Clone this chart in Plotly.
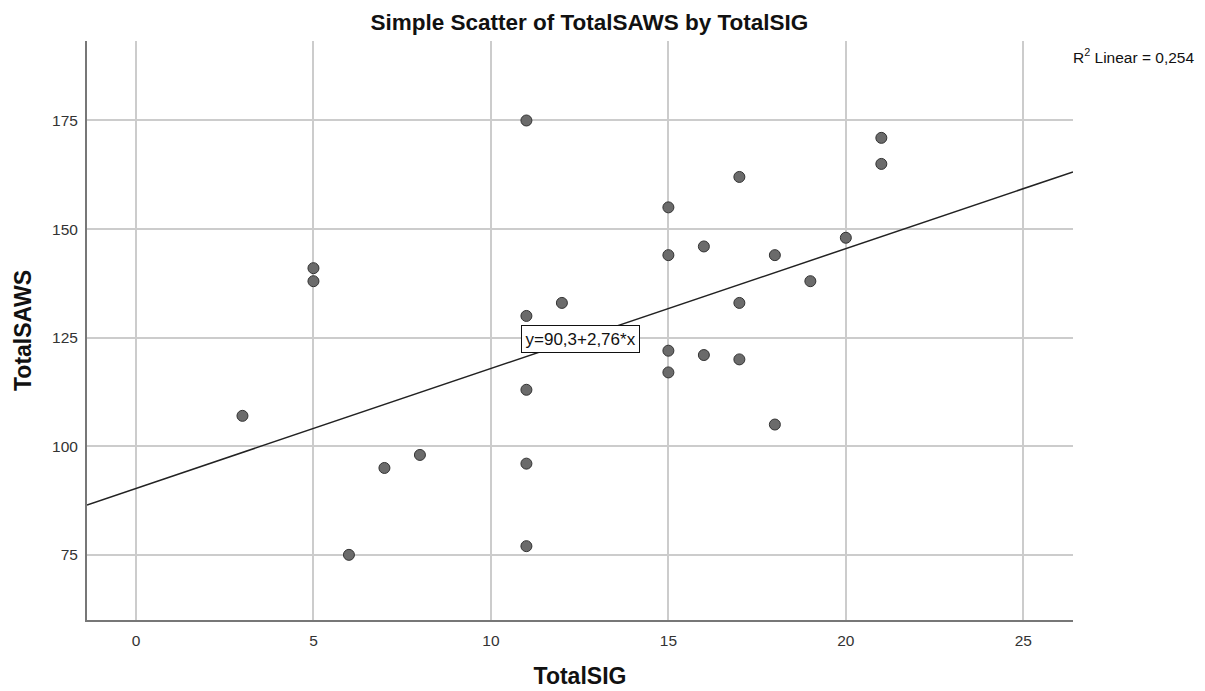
import plotly.graph_objects as go

total_sig = [3, 5, 5, 6, 7, 8, 11, 11, 11, 11, 11, 12, 15, 15, 15, 15, 16, 16, 17, 17, 17, 18, 18, 19, 20, 21, 21]
total_saws = [107, 141, 138, 75, 95, 98, 175, 130, 113, 96, 77, 133, 155, 144, 122, 117, 146, 121, 162, 133, 120, 144, 105, 138, 148, 171, 165]

intercept = 90.3
slope = 2.76
r2_text = "R<sup>2</sup> Linear = 0,254"
eq_text = "y=90,3+2,76*x"

x_range = [-1.38, 26.4]
y_range = [60.0, 193.3]
x_ticks = [0, 5, 10, 15, 20, 25]
y_ticks = [75, 100, 125, 150, 175]

FONT = "Arial, Liberation Sans"

fig = go.Figure()

line_x = x_range
line_y = [intercept + slope * v for v in line_x]
fig.add_trace(go.Scatter(x=line_x, y=line_y, mode="lines",
                         line=dict(color="#222222", width=1.5),
                         hoverinfo="skip", showlegend=False))

fig.add_trace(go.Scatter(x=total_sig, y=total_saws, mode="markers",
                         marker=dict(size=11, color="#6b6b6b",
                                     line=dict(color="#333333", width=1)),
                         showlegend=False))

fig.add_annotation(x=12.51, y=124.77, text=eq_text, showarrow=False,
                   font=dict(family=FONT, size=17, color="#111111"),
                   bordercolor="#111111", borderwidth=1, borderpad=3.5,
                   bgcolor="white")

fig.add_annotation(xref="paper", yref="paper", x=1.0, y=1.0, xanchor="left", yanchor="top",
                   xshift=-2, yshift=-3,
                   text=r2_text, showarrow=False,
                   font=dict(family=FONT, size=15.5, color="#111111"))

fig.update_layout(
    width=1197, height=683,
    margin=dict(l=79, r=132, t=33, b=71, autoexpand=False),
    paper_bgcolor="white", plot_bgcolor="white",
    title=dict(text="<b>Simple Scatter of TotalSAWS by TotalSIG</b>",
               x=0.4857, xanchor="center", y=0.98, yanchor="middle",
               font=dict(family=FONT, size=22.5, color="#111111")),
    font=dict(family=FONT, color="#333333"),
)

fig.update_xaxes(range=x_range, tickvals=x_ticks, showgrid=True, gridcolor="#cccccc", gridwidth=1.5,
                 zeroline=False, showline=True, linecolor="#777777", linewidth=2,
                 ticks="outside", ticklen=5, tickcolor="rgba(0,0,0,0)",
                 tickfont=dict(size=15.5, color="#333333"), automargin=False,
                 title=dict(text="<b>TotalSIG</b>", standoff=20,
                            font=dict(size=23, color="#111111")))
fig.update_yaxes(range=y_range, tickvals=y_ticks, showgrid=True, gridcolor="#cccccc", gridwidth=1.5,
                 zeroline=False, showline=True, linecolor="#777777", linewidth=2,
                 ticks="outside", ticklen=4, tickcolor="rgba(0,0,0,0)",
                 tickfont=dict(size=15.5, color="#333333"), automargin=False,
                 title=dict(text="<b>TotalSAWS</b>", standoff=14,
                            font=dict(size=23, color="#111111")))

fig.write_html("out.html")
